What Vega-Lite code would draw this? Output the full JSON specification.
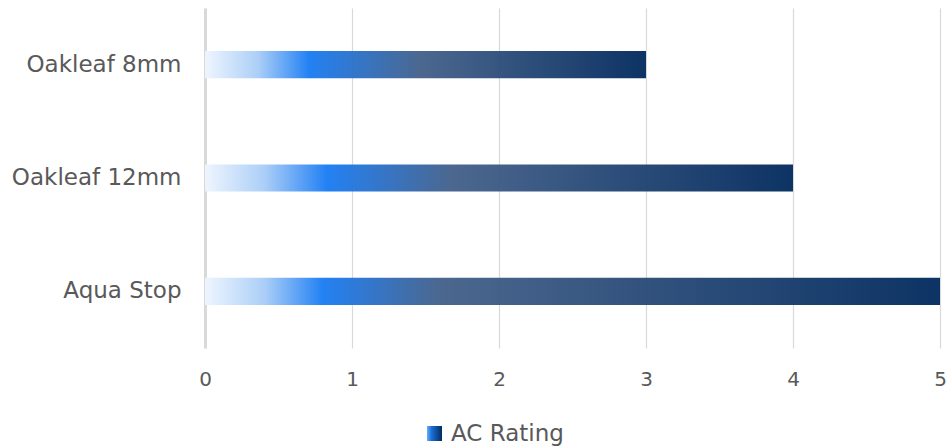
{
  "$schema": "https://vega.github.io/schema/vega-lite/v6.json",
  "autosize": {"type": "none"},
  "padding": {"left": 205, "top": 8, "right": 9, "bottom": 99},
  "width": 735,
  "height": 340,
  "background": "white",
  "config": {
    "view": {"stroke": null},
    "font": "DejaVu Sans",
    "axis": {"labelFont": "DejaVu Sans", "labelColor": "#595959"}
  },
  "data": {
    "values": [
      {"product": "Oakleaf 8mm", "rating": 3, "series": "AC Rating"},
      {"product": "Oakleaf 12mm", "rating": 4, "series": "AC Rating"},
      {"product": "Aqua Stop", "rating": 5, "series": "AC Rating"}
    ]
  },
  "encoding": {
    "y": {
      "field": "product", "type": "nominal",
      "sort": ["Oakleaf 8mm", "Oakleaf 12mm", "Aqua Stop"],
      "scale": {"paddingInner": 0.76, "paddingOuter": 0.38},
      "axis": {"title": null, "ticks": false, "labelPadding": 24, "labelFontSize": 23, "domainColor": "#d9d9d9", "domainWidth": 3, "grid": false}
    },
    "x": {
      "field": "rating", "type": "quantitative",
      "scale": {"domain": [0, 5], "nice": false},
      "axis": {"title": null, "values": [0, 1, 2, 3, 4, 5], "format": "d", "domain": false, "ticks": false, "labelFlush": false, "labelPadding": 21, "gridColor": "#d9d9d9", "gridWidth": 1.2, "labelFontSize": 20}
    }
  },
  "layer": [
    {
      "transform": [{"filter": "datum.product === 'Oakleaf 8mm'"}],
      "mark": {"type": "bar", "opacity": 0.96, "fill": {"gradient": "linear", "x1": 0, "x2": 1, "y1": 0, "y2": 0, "stops": [
        {"offset": 0, "color": "#eef5fe"},
        {"offset": 0.12, "color": "#a9cdf7"},
        {"offset": 0.236, "color": "#1a7cf3"},
        {"offset": 0.49, "color": "#44618a"},
        {"offset": 1, "color": "#032b5e"}
      ]}}
    },
    {
      "transform": [{"filter": "datum.product === 'Oakleaf 12mm'"}],
      "mark": {"type": "bar", "opacity": 0.96, "fill": {"gradient": "linear", "x1": 0, "x2": 1, "y1": 0, "y2": 0, "stops": [
        {"offset": 0, "color": "#eef5fe"},
        {"offset": 0.1, "color": "#a9cdf7"},
        {"offset": 0.207, "color": "#1a7cf3"},
        {"offset": 0.42, "color": "#44618a"},
        {"offset": 1, "color": "#032b5e"}
      ]}}
    },
    {
      "transform": [{"filter": "datum.product === 'Aqua Stop'"}],
      "mark": {"type": "bar", "opacity": 0.96, "fill": {"gradient": "linear", "x1": 0, "x2": 1, "y1": 0, "y2": 0, "stops": [
        {"offset": 0, "color": "#eef5fe"},
        {"offset": 0.08, "color": "#a9cdf7"},
        {"offset": 0.16, "color": "#1a7cf3"},
        {"offset": 0.32, "color": "#44618a"},
        {"offset": 1, "color": "#032b5e"}
      ]}}
    },
    {
      "mark": {"type": "point", "opacity": 0, "filled": true, "fill": {"gradient": "linear", "x1": 0, "x2": 1, "y1": 0, "y2": 0, "stops": [
        {"offset": 0, "color": "#6aaef8"},
        {"offset": 0.3, "color": "#1a6fd8"},
        {"offset": 1, "color": "#032b5e"}
      ]}},
      "encoding": {
        "shape": {
          "field": "series", "type": "nominal",
          "scale": {"range": ["square"]},
          "legend": {
            "title": null, "orient": "none", "legendX": 218, "legendY": 414,
            "symbolSize": 225, "symbolOpacity": 1,
            "labelFontSize": 23, "labelColor": "#595959", "labelFont": "DejaVu Sans", "labelOffset": 5,
            "symbolStrokeWidth": 0
          }
        }
      }
    }
  ]
}
